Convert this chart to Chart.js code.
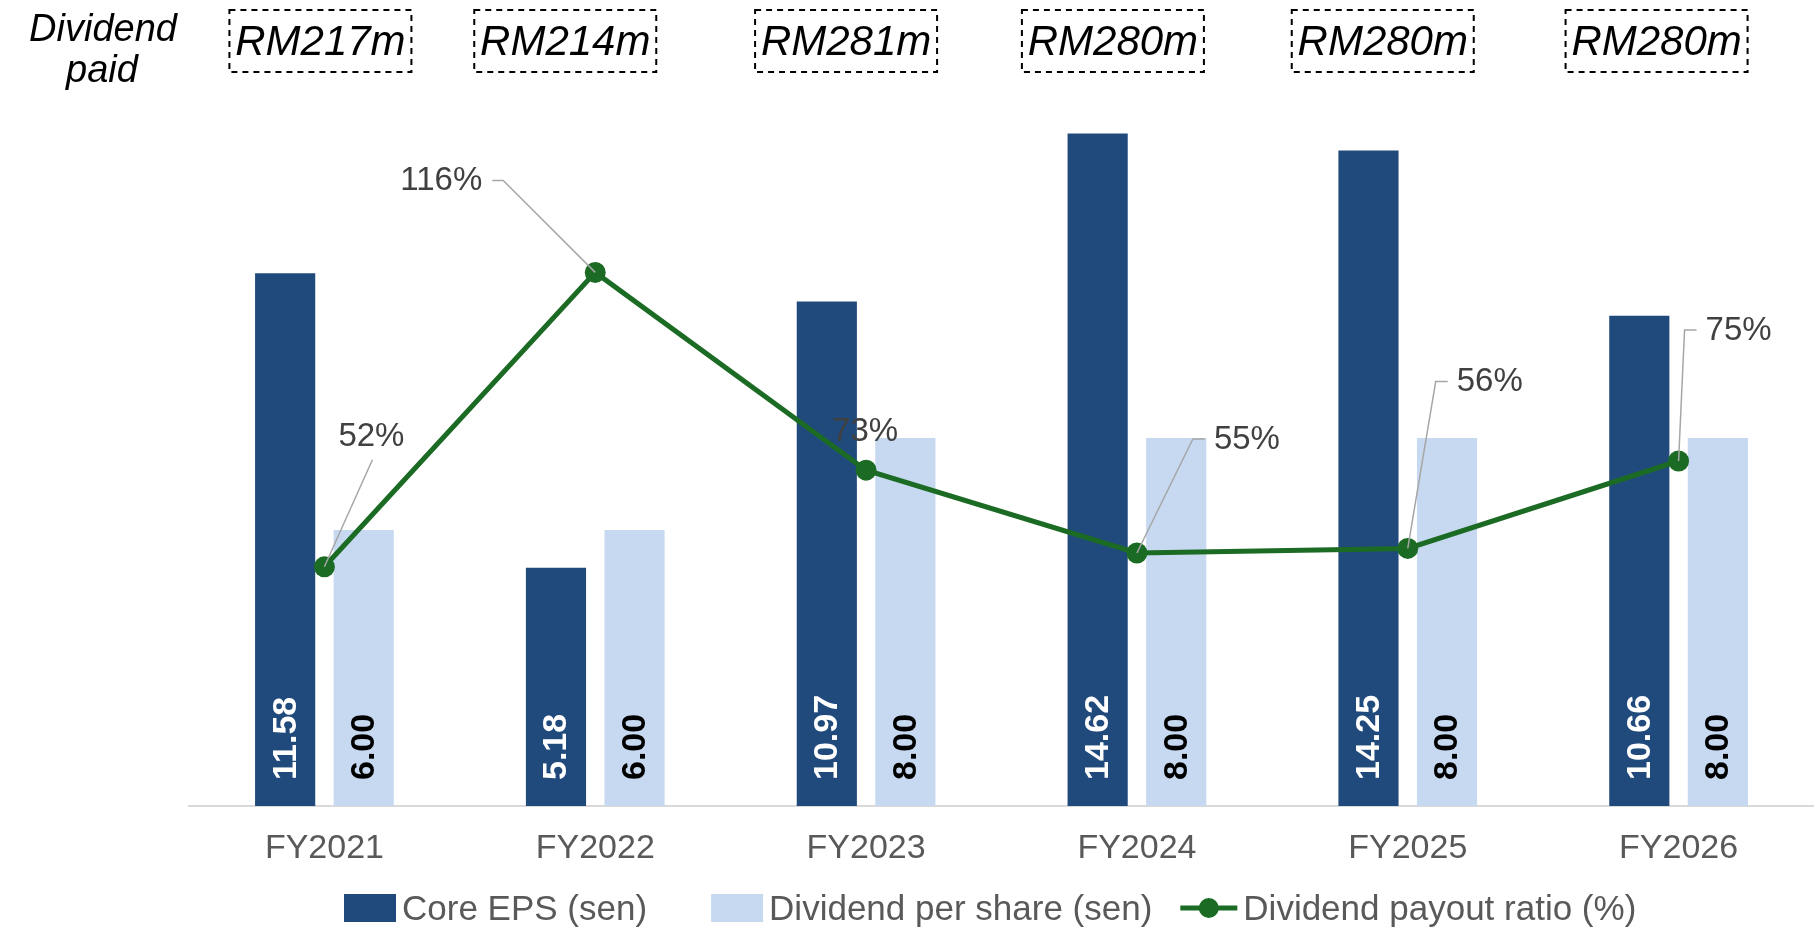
<!DOCTYPE html>
<html>
<head>
<meta charset="utf-8">
<script src="https://cdn.jsdelivr.net/npm/chart.js@4.4.0/dist/chart.umd.min.js"></script>
<style>
  html, body { margin: 0; padding: 0; background: #fff; overflow: hidden; }
  #wrap { width: 1814px; height: 932px; position: relative; }
  canvas { display: block; }
</style>
</head>
<body>
<div id="wrap"><canvas id="myChart"></canvas></div>
<script>
const categories = ['FY2021', 'FY2022', 'FY2023', 'FY2024', 'FY2025', 'FY2026'];
const coreEps = [11.58, 5.18, 10.97, 14.62, 14.25, 10.66];
const dividendPerShare = [6.00, 6.00, 8.00, 8.00, 8.00, 8.00];
const payoutRatio = [52, 116, 73, 55, 56, 75];
const dividendPaid = ['RM217m', 'RM214m', 'RM281m', 'RM280m', 'RM280m', 'RM280m'];

const FONT = "'Liberation Sans', Arial, sans-serif";
const navy = '#214a7c';
const lightBlue = '#c6d9f0';
const green = '#1c6b24';

// where each % label sits relative to its point (px), and which side the leader leaves from
const ratioLabelPos = [
  { dx: 47, dy: -130, leader: 'below' },
  { dx: -154, dy: -91, leader: 'right' },
  { dx: -1, dy: -38, leader: 'none' },
  { dx: 110, dy: -113, leader: 'left' },
  { dx: 82, dy: -166, leader: 'left' },
  { dx: 60, dy: -130, leader: 'left' },
];
// the dashed boxes on top are not quite centred on the categories
const boxShift = [-4, -30, -20, -24, -25, -22];

const labelsPlugin = {
  id: 'labels',
  afterDatasetsDraw(chart) {
    const ctx = chart.ctx;

    // values written up the bars
    [0, 1].forEach(di => {
      const meta = chart.getDatasetMeta(di);
      const vals = chart.data.datasets[di].data;
      meta.data.forEach((bar, i) => {
        ctx.save();
        ctx.translate(bar.x, bar.base - 26);
        ctx.rotate(-Math.PI / 2);
        ctx.font = 'bold 34px ' + FONT;
        ctx.fillStyle = di === 0 ? '#ffffff' : '#000000';
        ctx.textAlign = 'left';
        ctx.textBaseline = 'middle';
        ctx.fillText(vals[i].toFixed(2), 0, 1);
        ctx.restore();
      });
    });

    // payout % labels with leader lines
    const lineMeta = chart.getDatasetMeta(2);
    ctx.save();
    ctx.font = '33px ' + FONT;
    ctx.textAlign = 'center';
    ctx.textBaseline = 'middle';
    lineMeta.data.forEach((pt, i) => {
      const pos = ratioLabelPos[i];
      const tx = pt.x + pos.dx, ty = pt.y + pos.dy;
      const text = payoutRatio[i] + '%';
      const w = ctx.measureText(text).width;
      ctx.strokeStyle = '#a6a6a6';
      ctx.lineWidth = 1.5;
      ctx.beginPath();
      if (pos.leader === 'left') {
        ctx.moveTo(tx - w / 2 - 9, ty - 1);
        ctx.lineTo(tx - w / 2 - 21, ty - 1);
        ctx.lineTo(pt.x, pt.y);
      } else if (pos.leader === 'right') {
        ctx.moveTo(tx + w / 2 + 10, ty - 1);
        ctx.lineTo(tx + w / 2 + 21, ty - 1);
        ctx.lineTo(pt.x, pt.y);
      } else if (pos.leader === 'below') {
        ctx.moveTo(tx + 1, ty + 23);
        ctx.lineTo(pt.x, pt.y);
      }
      ctx.stroke();
      ctx.fillStyle = '#404040';
      ctx.fillText(text, tx, ty);
    });
    ctx.restore();
  },
  afterDraw(chart) {
    const ctx = chart.ctx;
    const xs = chart.scales.x;
    ctx.save();

    // "Dividend paid" row
    ctx.fillStyle = '#000';
    ctx.textAlign = 'center';
    ctx.textBaseline = 'alphabetic';
    ctx.font = 'italic 38px ' + FONT;
    ctx.fillText('Dividend', 103, 41);
    ctx.fillText('paid', 102, 82);
    dividendPaid.forEach((txt, i) => {
      const cx = xs.getPixelForValue(i) + boxShift[i];
      ctx.setLineDash([6, 5]);
      ctx.lineWidth = 2;
      ctx.strokeStyle = '#000';
      ctx.strokeRect(cx - 91, 10, 182, 62);
      ctx.setLineDash([]);
      ctx.font = 'italic 42px ' + FONT;
      ctx.fillText(txt, cx, 55);
    });

    // legend
    const ds = chart.data.datasets;
    const order = [0, 1, 2];
    ctx.font = '35px ' + FONT;
    ctx.textAlign = 'left';
    ctx.textBaseline = 'middle';
    const symW = [52, 52, 57];
    const gaps = [64, 28];
    let lx = chart.chartArea.left + 155;
    const ly = 908;
    order.forEach((d, k) => {
      if (ds[d].type === 'line') {
        ctx.strokeStyle = ds[d].borderColor;
        ctx.lineWidth = 5;
        ctx.beginPath();
        ctx.moveTo(lx, ly);
        ctx.lineTo(lx + symW[k], ly);
        ctx.stroke();
        ctx.fillStyle = ds[d].borderColor;
        ctx.beginPath();
        ctx.arc(lx + symW[k] / 2, ly, 10, 0, Math.PI * 2);
        ctx.fill();
      } else {
        ctx.fillStyle = ds[d].backgroundColor;
        ctx.fillRect(lx, ly - 14, symW[k], 28);
      }
      ctx.fillStyle = '#595959';
      ctx.fillText(ds[d].label, lx + symW[k] + 6, ly + 2);
      lx += symW[k] + 6 + ctx.measureText(ds[d].label).width + (gaps[k] || 0);
    });
    ctx.restore();
  }
};

const ctx = document.getElementById('myChart').getContext('2d');

const myChart = new Chart(ctx, {
  type: 'bar',
  data: {
    labels: categories,
    datasets: [{
      label: 'Core EPS (sen)',
      data: coreEps,
      backgroundColor: navy,
      yAxisID: 'y',
      order: 1,
      categoryPercentage: 0.58,
      barPercentage: 0.766,
    }, {
      label: 'Dividend per share (sen)',
      data: dividendPerShare,
      backgroundColor: lightBlue,
      yAxisID: 'y',
      order: 1,
      categoryPercentage: 0.58,
      barPercentage: 0.766,
    }, {
      type: 'line',
      label: 'Dividend payout ratio (%)',
      data: payoutRatio,
      borderColor: green,
      backgroundColor: green,
      borderWidth: 5,
      pointRadius: 10.5,
      pointHoverRadius: 10.5,
      pointBorderWidth: 0,
      tension: 0,
      yAxisID: 'y1',
      order: 0,
      clip: false,
    }]
  },
  options: {
    responsive: true,
    maintainAspectRatio: false,
    animation: false,
    layout: {
      autoPadding: false,
      padding: { left: 189, right: 0, top: 70, bottom: 0 }
    },
    plugins: {
      legend: { display: false },
      tooltip: { enabled: false },
    },
    scales: {
      x: {
        grid: { display: false, drawTicks: false },
        border: { display: true, color: '#d9d9d9', width: 2 },
        ticks: {
          color: '#595959',
          font: { family: FONT, size: 34 },
          padding: 22,
        },
        afterFit(scale) { scale.height = 126; }
      },
      y: { display: false, min: 0, max: 16 },
      y1: { display: false, min: 0, max: 160, position: 'right' },
    }
  },
  plugins: [labelsPlugin]
});
</script>
</body>
</html>
